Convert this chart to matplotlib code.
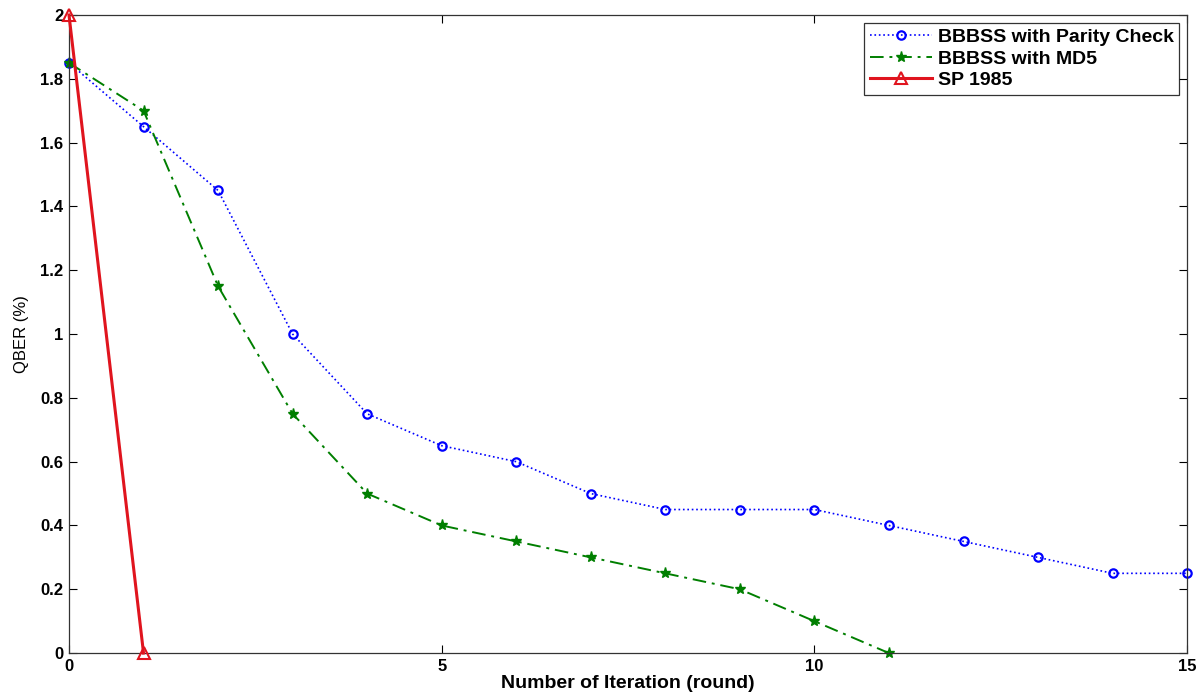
import numpy as np
import matplotlib
matplotlib.use('Agg')
import matplotlib.pyplot as plt

# Datos
iter_parity = [0, 1, 2, 3, 4, 5, 6, 7, 8, 9, 10, 11, 12, 13, 14, 15]
qber_parity = [1.85, 1.65, 1.45, 1.0, 0.75, 0.65, 0.6, 0.5, 0.45, 0.45,
               0.45, 0.4, 0.35, 0.3, 0.25, 0.25]

iter_md5 = [0, 1, 2, 3, 4, 5, 6, 7, 8, 9, 10, 11]
qber_md5 = [1.85, 1.7, 1.15, 0.75, 0.5, 0.4, 0.35, 0.3, 0.25, 0.2, 0.1, 0.0]

iter_sp = [0, 1]
qber_sp = [2.0, 0.0]

x_ticks = [0, 5, 10, 15]
y_ticks = [0, 0.2, 0.4, 0.6, 0.8, 1, 1.2, 1.4, 1.6, 1.8, 2]
y_tick_labels = ['0', '0.2', '0.4', '0.6', '0.8', '1', '1.2', '1.4', '1.6', '1.8', '2']

plt.rcParams['font.family'] = ['Liberation Sans', 'DejaVu Sans']

fig = plt.figure(figsize=(12.04, 7), dpi=100)
ax = fig.add_axes([0.0573, 0.067, 0.9287, 0.9116])

ax.plot(iter_parity, qber_parity, color='#0000ff', linestyle=':', linewidth=1.2,
        marker='o', markersize=6, markerfacecolor='none', markeredgewidth=1.6,
        label='BBBSS with Parity Check', clip_on=False)
ax.plot(iter_md5, qber_md5, color='#007f00', linestyle=(0, (7, 3, 1.5, 3)), linewidth=1.4,
        marker='*', markersize=8, markeredgewidth=1.0,
        label='BBBSS with MD5', clip_on=False)
ax.plot(iter_sp, qber_sp, color='#e0141e', linestyle='-', linewidth=2.2,
        marker='^', markersize=8, markerfacecolor='none', markeredgewidth=1.5,
        label='SP 1985', clip_on=False, zorder=5)

ax.set_xlim(0, 15)
ax.set_ylim(0, 2)
ax.set_xticks(x_ticks)
ax.set_yticks(y_ticks)
ax.set_yticklabels(y_tick_labels)
ax.tick_params(direction='in', length=6, width=0.8, top=True, right=True,
               labelsize=12, pad=4)
for lab in ax.get_xticklabels() + ax.get_yticklabels():
    lab.set_fontweight('bold')
for s in ax.spines.values():
    s.set_linewidth(0.9)
    s.set_color('#333333')

ax.set_xlabel('Number of Iteration (round)', fontsize=14, fontweight='bold', labelpad=1)
ax.set_ylabel('QBER (%)', fontsize=12, labelpad=8)

leg = ax.legend(loc='upper right', fontsize=14, frameon=True, fancybox=False,
                edgecolor='black', borderaxespad=0.4, handlelength=3.2,
                borderpad=0.3, labelspacing=0.2, handletextpad=0.3)
for t in leg.get_texts():
    t.set_fontweight('bold')
leg.get_frame().set_linewidth(0.9)

fig.savefig('out.png', dpi=100)
